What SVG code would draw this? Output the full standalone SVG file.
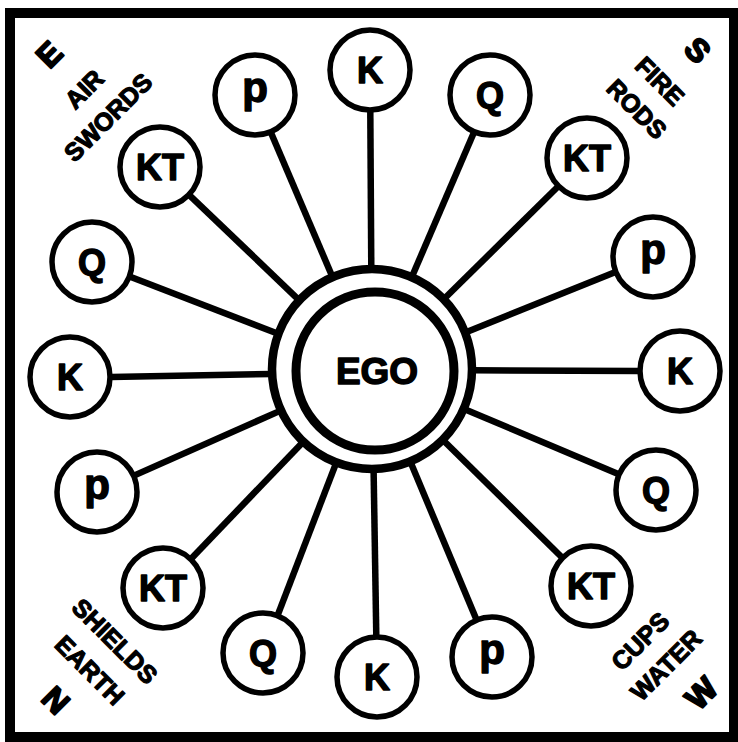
<svg xmlns="http://www.w3.org/2000/svg" width="738" height="742" viewBox="0 0 738 742">
<style>
.frame{fill:none;stroke:#000;stroke-width:10}
.spoke{stroke:#000;stroke-width:6.5;stroke-linecap:butt}
.sat{fill:#fff;stroke:#000;stroke-width:5.5}
.lab{font-family:"Liberation Sans",Arial,sans-serif;font-weight:bold;font-size:36px;text-anchor:middle;fill:#000;stroke:#000;stroke-width:1.4;stroke-linejoin:round}
.lp{font-size:42px}
.corner{font-family:"Liberation Sans",Arial,sans-serif;font-weight:bold;font-size:25px;text-anchor:middle;fill:#000;stroke:#000;stroke-width:1.2;stroke-linejoin:round}
.big{font-size:32px;stroke-width:2}
</style>
<rect width="738" height="742" fill="#fff"/>
<rect class="frame" x="10" y="13" width="724" height="724"/>
<g id="connectors">
<line class="spoke" x1="370.3" y1="111" x2="371.3" y2="270"/>
<line class="spoke" x1="473.8" y1="132.7" x2="411.4" y2="278"/>
<line class="spoke" x1="557.8" y1="186.8" x2="443.2" y2="299.8"/>
<line class="spoke" x1="614.9" y1="272.3" x2="464.8" y2="332.7"/>
<line class="spoke" x1="639" y1="370.9" x2="472" y2="370.3"/>
<line class="spoke" x1="618.2" y1="474" x2="464.1" y2="408.9"/>
<line class="spoke" x1="561.8" y1="557.2" x2="443.2" y2="440.2"/>
<line class="spoke" x1="476.2" y1="619.1" x2="410.6" y2="462.3"/>
<line class="spoke" x1="376.3" y1="636" x2="373.6" y2="470"/>
<line class="spoke" x1="277.8" y1="614.8" x2="336" y2="463.3"/>
<line class="spoke" x1="191.4" y1="558.4" x2="302.8" y2="442.2"/>
<line class="spoke" x1="134.5" y1="475.4" x2="280.6" y2="410.6"/>
<line class="spoke" x1="111" y1="377" x2="272" y2="374"/>
<line class="spoke" x1="130.2" y1="276.8" x2="278.7" y2="334"/>
<line class="spoke" x1="189.6" y1="195.3" x2="299.8" y2="300.8"/>
<line class="spoke" x1="271" y1="132.8" x2="332.9" y2="278"/>
</g>
<g id="ego">
<circle cx="372" cy="369" r="100" fill="#fff" stroke="#000" stroke-width="8.5"/>
<circle cx="375" cy="371" r="79" fill="#fff" stroke="#000" stroke-width="9"/>
<text class="lab" x="377" y="384" style="font-size:37px">EGO</text>
</g>
<g id="n1"><circle class="sat" cx="370" cy="70" r="40"/><text class="lab" x="370" y="83">K</text></g>
<g id="n2"><circle class="sat" cx="490" cy="95" r="40"/><text class="lab" x="490" y="108">Q</text></g>
<g id="n3"><circle class="sat" cx="587" cy="158" r="40"/><text class="lab" x="587" y="171">KT</text></g>
<g id="n4"><circle class="sat" cx="653" cy="257" r="40"/><text class="lab lp" x="653" y="263.5">p</text></g>
<g id="n5"><circle class="sat" cx="680" cy="371" r="40"/><text class="lab" x="680" y="384">K</text></g>
<g id="n6"><circle class="sat" cx="656" cy="490" r="40"/><text class="lab" x="656" y="503">Q</text></g>
<g id="n7"><circle class="sat" cx="591" cy="586" r="40"/><text class="lab" x="591" y="599">KT</text></g>
<g id="n8"><circle class="sat" cx="492" cy="657" r="40"/><text class="lab lp" x="492" y="663.5">p</text></g>
<g id="n9"><circle class="sat" cx="377" cy="677" r="40"/><text class="lab" x="377" y="690">K</text></g>
<g id="n10"><circle class="sat" cx="263" cy="653" r="40"/><text class="lab" x="263" y="666">Q</text></g>
<g id="n11"><circle class="sat" cx="163" cy="588" r="40"/><text class="lab" x="163" y="601">KT</text></g>
<g id="n12"><circle class="sat" cx="97" cy="492" r="40"/><text class="lab lp" x="97" y="498.5">p</text></g>
<g id="n13"><circle class="sat" cx="70" cy="377" r="40"/><text class="lab" x="70" y="390">K</text></g>
<g id="n14"><circle class="sat" cx="92" cy="262" r="40"/><text class="lab" x="92" y="275">Q</text></g>
<g id="n15"><circle class="sat" cx="160" cy="167" r="40"/><text class="lab" x="160" y="180">KT</text></g>
<g id="n16"><circle class="sat" cx="255" cy="95" r="40"/><text class="lab lp" x="255" y="101.5">p</text></g>
<g id="corner-tl">
<text class="corner big" transform="translate(49,54) rotate(-45)" y="11.5">E</text>
<text class="corner" transform="translate(84,89) rotate(-45)" y="9">AIR</text>
<text class="corner" transform="translate(108,117) rotate(-45)" y="9">SWORDS</text>
</g>
<g id="corner-tr">
<text class="corner big" transform="translate(698,50) rotate(45)" y="11.5">S</text>
<text class="corner" transform="translate(660,81) rotate(45)" y="9">FIRE</text>
<text class="corner" transform="translate(637,109) rotate(45)" y="9">RODS</text>
</g>
<g id="corner-bl">
<text class="corner" transform="translate(115,641) rotate(45)" y="9">SHIELDS</text>
<text class="corner" transform="translate(90,670) rotate(45)" y="9">EARTH</text>
<text class="corner big" transform="translate(56,700) rotate(45)" y="11.5">N</text>
</g>
<g id="corner-br">
<text class="corner" transform="translate(640,641) rotate(-45)" y="9">CUPS</text>
<text class="corner" transform="translate(666,665) rotate(-45)" y="9">WATER</text>
<text class="corner big" transform="translate(701,693) rotate(-45)" y="11.5">W</text>
</g>
</svg>
